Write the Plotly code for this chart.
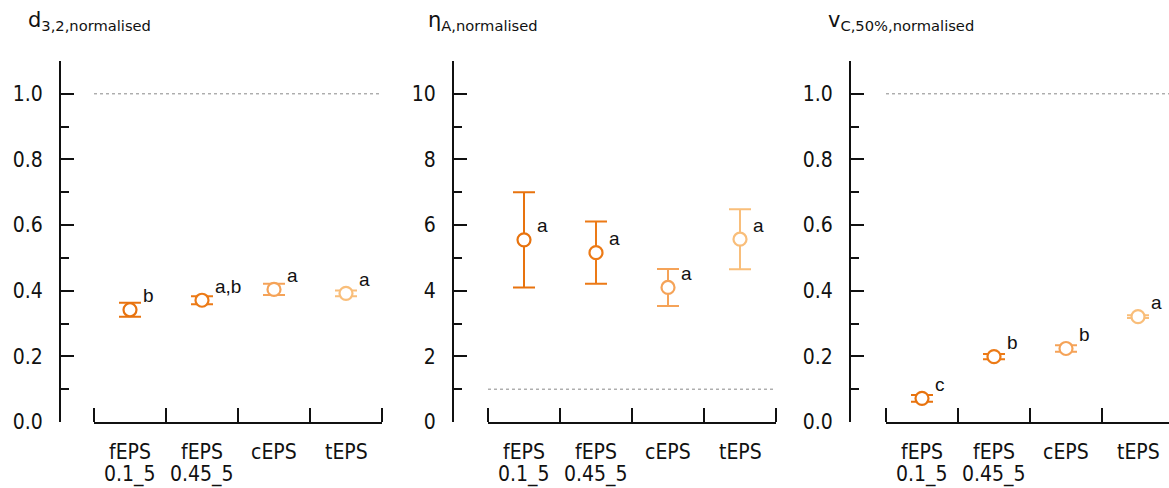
import plotly.graph_objects as go

W, H = 1169, 488

cat_main = ["fEPS", "fEPS", "cEPS", "tEPS"]
cat_sub = ["0.1_5", "0.45_5", "", ""]
colors = ["#E8730E", "#EC7A16", "#F5A358", "#F9BE7A"]

d32_mean = [0.342, 0.371, 0.404, 0.392]
d32_err = [0.021, 0.012, 0.017, 0.009]
d32_letters = ["b", "a,b", "a", "a"]

eta_mean = [5.55, 5.16, 4.10, 5.57]
eta_err = [1.45, 0.95, 0.565, 0.915]
eta_letters = ["a", "a", "a", "a"]

vc_mean = [0.072, 0.199, 0.224, 0.321]
vc_err = [0.010, 0.008, 0.010, 0.004]
vc_letters = ["c", "b", "b", "a"]

titles = ["d<sub>3,2,normalised</sub>", "η<sub>A,normalised</sub>", "v<sub>C,50%,normalised</sub>"]
reference_lines = [1.0, 1.0, 1.0]
y_ranges = [[0, 1.1], [0, 11], [0, 1.1]]
y_dticks = [0.2, 2, 0.2]
y_formats = [".1f", "d", ".1f"]

# layout geometry (pixels)
yaxis_px = [60, 453, 850]
xdom_px = [(94, 382), (488, 776), (886, 1169)]
title_px = [26, 426, 826]
plot_top, plot_bottom = 61, 422

FONTFAM = "Tahoma, DejaVu Sans Condensed, DejaVu Sans"
TICKFONT = dict(family=FONTFAM, size=21, color="#111")
CATFONT = dict(family=FONTFAM, size=21, color="#111")
LETTERFONT = dict(family="Liberation Sans, Arial", size=19, color="#111")

fig = go.Figure()
panels = [(d32_mean, d32_err, d32_letters), (eta_mean, eta_err, eta_letters), (vc_mean, vc_err, vc_letters)]

annotations = []
shapes = []
for p, (means, errs, letters) in enumerate(panels):
    xa = "x" if p == 0 else f"x{p+1}"
    ya = "y" if p == 0 else f"y{p+1}"
    for i in range(len(cat_main)):
        fig.add_trace(go.Scatter(
            x=[i], y=[means[i]], xaxis=xa, yaxis=ya, mode="markers",
            marker=dict(symbol="circle", size=13, color="white",
                        line=dict(color=colors[i], width=2.2)),
            error_y=dict(type="data", array=[errs[i]], visible=True,
                         color=colors[i], thickness=2, width=11),
            showlegend=False, hoverinfo="skip"))
        annotations.append(dict(
            x=i, y=means[i], xref=xa, yref=ya, text=letters[i], showarrow=False,
            xanchor="left", yanchor="middle", xshift=11, yshift=14, font=LETTERFONT))
        annotations.append(dict(
            x=i, y=1 - 452 / H, xref=xa, yref="paper", text=cat_main[i], showarrow=False,
            xanchor="center", yanchor="middle", font=CATFONT))
        if cat_sub[i]:
            annotations.append(dict(
                x=i, y=1 - 474 / H, xref=xa, yref="paper", text=cat_sub[i], showarrow=False,
                xanchor="center", yanchor="middle", font=CATFONT))
    shapes.append(dict(type="line", xref=f"{xa} domain", yref=ya, x0=0, x1=1,
                       y0=reference_lines[p], y1=reference_lines[p],
                       line=dict(color="#888", width=1, dash="dot"), layer="below"))
    annotations.append(dict(
        x=title_px[p] / W, y=1 - 6 / H, xref="paper", yref="paper", text=titles[p],
        showarrow=False, xanchor="left", yanchor="top",
        font=dict(family="DejaVu Sans", size=21, color="#111")))

layout = dict(width=W, height=H, margin=dict(l=0, r=0, t=0, b=0, autoexpand=False),
              paper_bgcolor="white", plot_bgcolor="white",
              annotations=annotations, shapes=shapes)

ydom = [(H - plot_bottom) / H, (H - plot_top) / H]
for p in range(3):
    xk = "xaxis" if p == 0 else f"xaxis{p+1}"
    yk = "yaxis" if p == 0 else f"yaxis{p+1}"
    ya = "y" if p == 0 else f"y{p+1}"
    x0, x1 = xdom_px[p]
    span = (x1 - x0) / 72.0
    layout[xk] = dict(
        domain=[x0 / W, x1 / W], range=[-0.5, -0.5 + span], anchor=ya, automargin=False,
        showline=True, linewidth=2, linecolor="#111", showgrid=False, zeroline=False,
        showticklabels=False, ticks="",
        minor=dict(tickmode="array", tickvals=[i - 0.5 for i in range(len(cat_main) + 1)],
                   ticks="inside", ticklen=14, tickwidth=2, tickcolor="#111"),
        fixedrange=True)
    layout[yk] = dict(
        domain=ydom, range=y_ranges[p], anchor="free", position=yaxis_px[p] / W, automargin=False,
        showline=True, linewidth=2, linecolor="#111", showgrid=False, zeroline=False,
        tick0=0, dtick=y_dticks[p], tickformat=y_formats[p],
        ticks="inside", ticklen=13, tickwidth=2, tickcolor="#111",
        tickfont=TICKFONT, ticklabelstandoff=12,
        minor=dict(dtick=y_dticks[p] / 2, ticks="inside", ticklen=8, tickwidth=2, tickcolor="#111"),
        fixedrange=True)

fig.update_layout(**layout)
fig.write_html("out.html")
